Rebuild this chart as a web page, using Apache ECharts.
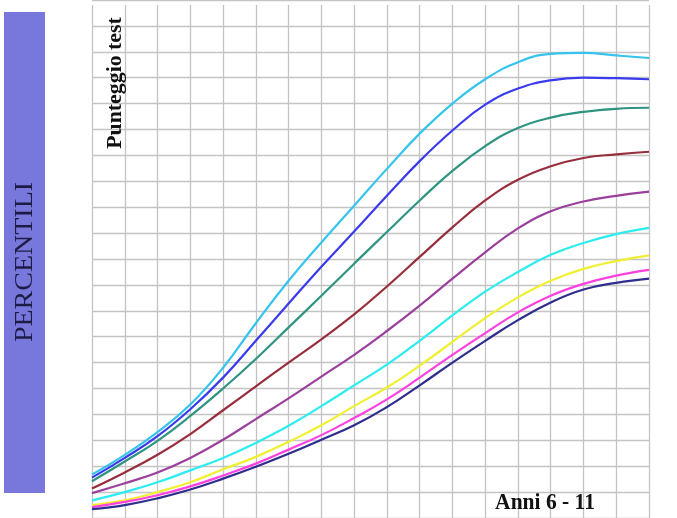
<!DOCTYPE html>
<html>
<head>
<meta charset="utf-8">
<script src="https://cdn.jsdelivr.net/npm/echarts@6/dist/echarts.min.js"></script>
<style>
  html, body { margin: 0; padding: 0; background: #ffffff; }
  #chart { width: 677px; height: 518px; }
</style>
</head>
<body>
<div id="chart"></div>
<script>
// Age steps along the x axis (grid columns), score on the y axis (0-100)
const steps = [0, 1, 2, 3, 4, 5, 6, 7, 8, 9, 10, 11, 12, 13, 14, 15, 16, 17];

// Percentile curves, highest to lowest
const p97 = [8.4, 12.2, 16.6, 21.9, 29.0, 37.6, 45.8, 53.2, 60.3, 67.4, 74.2, 80.0, 84.7, 88.0, 89.6, 89.8, 89.3, 88.8];
const p90 = [7.8, 11.6, 15.8, 21.0, 27.1, 34.2, 41.4, 48.5, 55.3, 62.2, 68.9, 74.8, 79.8, 82.9, 84.5, 85.0, 84.9, 84.7];
const p75 = [7.1, 10.9, 14.9, 19.7, 25.0, 30.7, 36.8, 42.9, 49.1, 55.2, 61.3, 67.0, 71.8, 75.3, 77.3, 78.4, 79.0, 79.2];
const p50 = [5.7, 8.8, 12.2, 16.2, 20.8, 25.4, 30.0, 34.5, 39.3, 44.7, 50.4, 56.1, 61.3, 65.3, 67.9, 69.5, 70.2, 70.7];
const p25 = [4.8, 6.7, 8.8, 11.6, 15.1, 19.1, 23.1, 27.3, 31.5, 36.1, 41.0, 46.2, 51.3, 55.9, 59.2, 61.1, 62.2, 63.0];
const p10 = [3.4, 5.0, 6.9, 9.2, 11.6, 14.5, 17.8, 21.6, 25.6, 29.6, 34.2, 39.1, 43.7, 47.5, 50.8, 53.1, 54.8, 56.0];
const p5  = [2.5, 3.4, 5.0, 6.9, 9.4, 11.8, 14.7, 17.9, 21.6, 25.2, 29.4, 34.0, 38.6, 42.6, 45.8, 48.1, 49.6, 50.7];
const p3  = [2.1, 3.1, 4.4, 6.1, 8.2, 10.5, 13.2, 16.0, 19.3, 22.9, 27.1, 31.5, 35.7, 39.7, 42.9, 45.2, 46.8, 47.9];
const p1  = [1.7, 2.5, 3.8, 5.5, 7.6, 9.9, 12.4, 15.1, 17.9, 21.4, 25.6, 30.0, 34.2, 38.2, 41.6, 44.1, 45.4, 46.2];

const curves = [
  { name: 'P97', data: p97, color: '#36c4ee' },
  { name: 'P90', data: p90, color: '#3a3aee' },
  { name: 'P75', data: p75, color: '#2f9582' },
  { name: 'P50', data: p50, color: '#982e3c' },
  { name: 'P25', data: p25, color: '#9a409c' },
  { name: 'P10', data: p10, color: '#2cecf0' },
  { name: 'P5',  data: p5,  color: '#f0f030' },
  { name: 'P3',  data: p3,  color: '#ff40e0' },
  { name: 'P1',  data: p1,  color: '#2e2e8e' }
];

const gridColor = '#c4c4c4';
const chart = echarts.init(document.getElementById('chart'), null, { renderer: 'canvas' });

chart.setOption({
  animation: false,
  backgroundColor: '#ffffff',
  grid: [
    // plotting grid: horizontal rules
    { left: 92, right: 28, top: -1.5, bottom: -5 },
    // vertical rules
    { left: 92, right: 28, top: 5, bottom: -5 }
  ],
  xAxis: [
    {
      gridIndex: 0, type: 'value', min: 0, max: 17, interval: 1,
      axisLine: { show: false }, axisTick: { show: false }, axisLabel: { show: false },
      splitLine: { show: false }
    },
    {
      gridIndex: 1, type: 'value', min: 0, max: 17, interval: 1,
      axisLine: { show: false }, axisTick: { show: false }, axisLabel: { show: false },
      splitLine: { show: true, lineStyle: { color: gridColor, width: 1.3 } }
    }
  ],
  yAxis: [
    {
      gridIndex: 0, type: 'value', min: 0, max: 100, interval: 5,
      axisLine: { show: false }, axisTick: { show: false }, axisLabel: { show: false },
      splitLine: { show: true, lineStyle: { color: gridColor, width: 1.3 } }
    },
    {
      gridIndex: 1, type: 'value', min: 0, max: 1,
      axisLine: { show: false }, axisTick: { show: false }, axisLabel: { show: false },
      splitLine: { show: false }
    }
  ],
  series: curves.map(c => ({
    name: c.name,
    type: 'line',
    xAxisIndex: 0,
    yAxisIndex: 0,
    data: steps.map((s, i) => [s, c.data[i]]),
    smooth: 0.45,
    showSymbol: false,
    lineStyle: { color: c.color, width: 2.2 },
    itemStyle: { color: c.color },
    z: 3
  })),
  graphic: [
    {
      type: 'rect',
      shape: { x: 4, y: 12, width: 41, height: 481 },
      style: { fill: '#7878dc' },
      z: 10
    },
    {
      type: 'text',
      x: 25, y: 262,
      rotation: Math.PI / 2,
      scaleX: 1.12,
      style: {
        text: 'PERCENTILI',
        font: '25px "Liberation Serif"',
        fill: '#1c1c44',
        align: 'center', verticalAlign: 'middle',
        textAlign: 'center', textVerticalAlign: 'middle'
      },
      z: 11
    },
    {
      type: 'text',
      x: 116, y: 83,
      rotation: Math.PI / 2,
      scaleX: 1.04,
      style: {
        text: 'Punteggio test',
        font: 'bold 21px "Liberation Serif"',
        fill: '#111111',
        align: 'center', verticalAlign: 'middle',
        textAlign: 'center', textVerticalAlign: 'middle'
      },
      z: 11
    },
    {
      type: 'text',
      x: 545, y: 503,
      scaleY: 1.12,
      style: {
        text: 'Anni 6 - 11',
        font: 'bold 21.5px "Liberation Serif"',
        fill: '#111111',
        align: 'center', verticalAlign: 'middle',
        textAlign: 'center', textVerticalAlign: 'middle'
      },
      z: 11
    }
  ]
});
</script>
</body>
</html>
